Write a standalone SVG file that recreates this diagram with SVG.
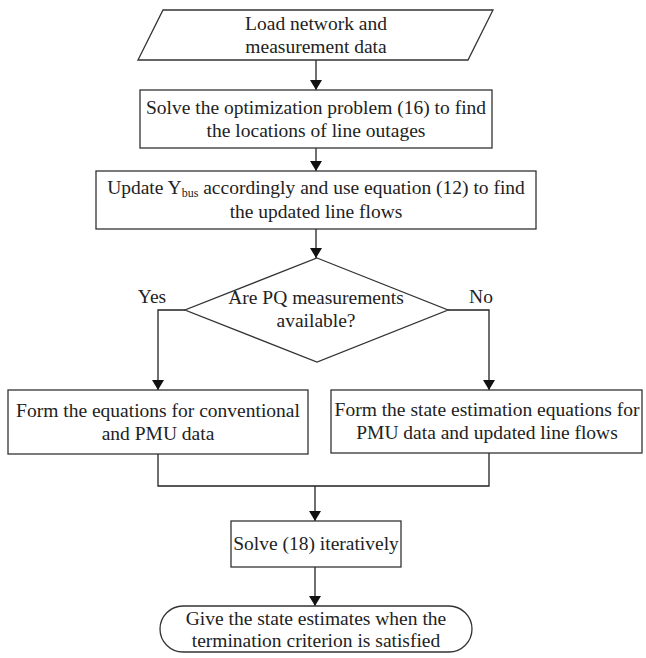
<svg xmlns="http://www.w3.org/2000/svg" width="646" height="658" viewBox="0 0 646 658">
<defs>
<marker id="arr" viewBox="0 0 10 12" refX="10" refY="6" markerWidth="10" markerHeight="12" markerUnits="userSpaceOnUse" orient="auto">
<path d="M0,0 L10,6 L0,12 Z" fill="#111"/>
</marker>
<style>
.shape{fill:#fff;stroke:#333;stroke-width:1.3}
.t{font-family:'Liberation Serif','Times New Roman',serif;font-size:19.5px;fill:#222;text-anchor:middle}
.c{fill:none;stroke:#222;stroke-width:1.3}
.ca{fill:none;stroke:#222;stroke-width:1.3;marker-end:url(#arr)}
</style>
</defs>
<rect width="646" height="658" fill="#fff"/>
<g id="connectors">
<line class="ca" x1="316" y1="60" x2="316" y2="90"/>
<line class="ca" x1="316" y1="148" x2="316" y2="171"/>
<line class="ca" x1="316" y1="229" x2="316" y2="258"/>
<polyline class="ca" points="185,310 158,310 158,390"/>
<polyline class="ca" points="448,310 489,310 489,390"/>
<polyline class="c" points="158,454 158,486 489,486 489,453"/>
<line class="ca" x1="315" y1="486" x2="315" y2="521"/>
<line class="ca" x1="315" y1="567" x2="315" y2="606"/>
</g>
<g id="load">
<polygon class="shape" points="163,10 493,10 468,60 138,60"/>
<text class="t" x="316" y="30">Load network and</text>
<text class="t" x="316" y="53">measurement data</text>
</g>
<g id="solve16">
<rect class="shape" x="140" y="90" width="352" height="58"/>
<text class="t" x="316" y="114">Solve the optimization problem (16) to find</text>
<text class="t" x="316" y="137">the locations of line outages</text>
</g>
<g id="update">
<rect class="shape" x="96" y="171" width="440" height="58"/>
<text class="t" x="316" y="194">Update Y<tspan font-size="12" dy="3">bus</tspan><tspan dy="-3"> accordingly and use equation (12) to find</tspan></text>
<text class="t" x="316" y="218">the updated line flows</text>
</g>
<g id="decision">
<polygon class="shape" points="317,258 448,310 317,362 185,310"/>
<text class="t" x="316" y="304">Are PQ measurements</text>
<text class="t" x="316" y="327">available?</text>
<text class="t" x="152" y="303">Yes</text>
<text class="t" x="481" y="303">No</text>
</g>
<g id="conventional">
<rect class="shape" x="8" y="390" width="300" height="64"/>
<text class="t" x="158" y="417">Form the equations for conventional</text>
<text class="t" x="158" y="440">and PMU data</text>
</g>
<g id="pmu">
<rect class="shape" x="331" y="390" width="311" height="63"/>
<text class="t" x="487" y="416">Form the state estimation equations for</text>
<text class="t" x="487" y="439">PMU data and updated line flows</text>
</g>
<g id="solve18">
<rect class="shape" x="231" y="521" width="170" height="46"/>
<text class="t" x="316" y="550">Solve (18) iteratively</text>
</g>
<g id="terminal">
<rect class="shape" x="160" y="606" width="312" height="46" rx="23" ry="23"/>
<text class="t" x="316" y="625">Give the state estimates when the</text>
<text class="t" x="316" y="647">termination criterion is satisfied</text>
</g>
</svg>
